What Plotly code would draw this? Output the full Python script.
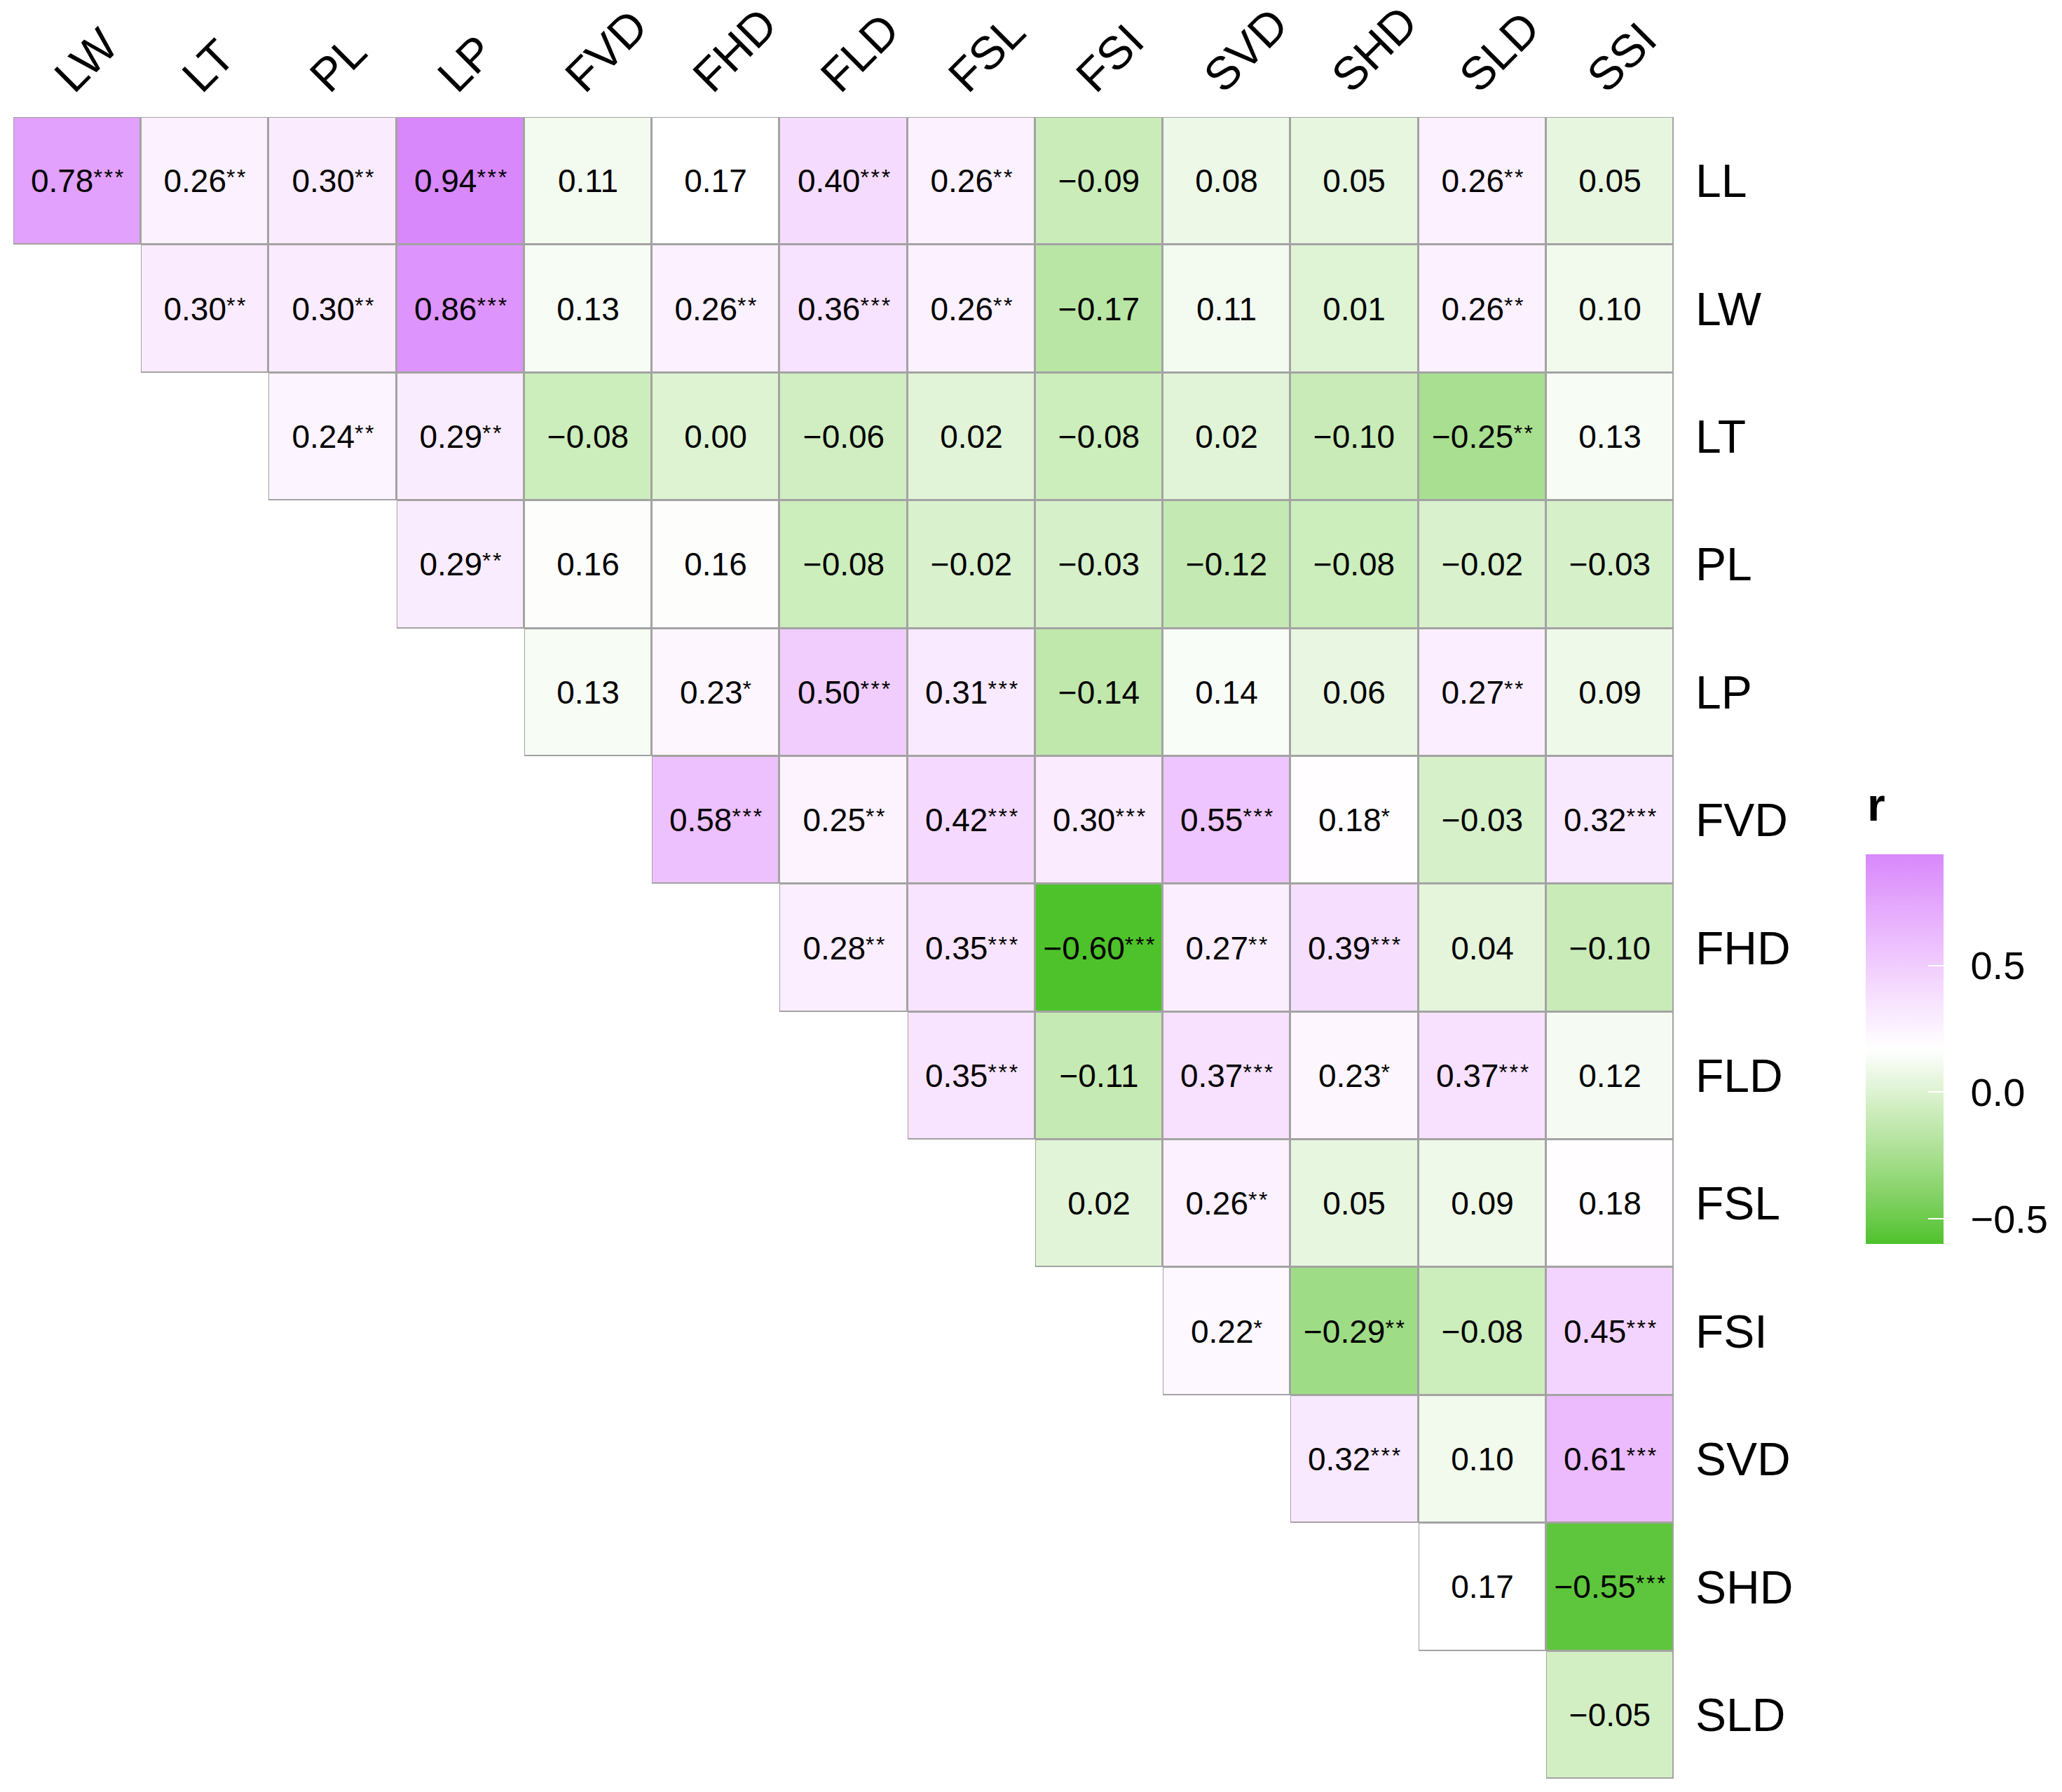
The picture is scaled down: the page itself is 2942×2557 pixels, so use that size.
import numpy as np
import plotly.graph_objects as go

# column / row variables
cols = ['LW', 'LT', 'PL', 'LP', 'FVD', 'FHD', 'FLD', 'FSL', 'FSI', 'SVD', 'SHD', 'SLD', 'SSI']
rows = ['LL', 'LW', 'LT', 'PL', 'LP', 'FVD', 'FHD', 'FLD', 'FSL', 'FSI', 'SVD', 'SHD', 'SLD']

# correlation r per row (row i starts at column i) and significance stars
r_LL = [0.78, 0.26, 0.30, 0.94, 0.11, 0.17, 0.40, 0.26, -0.09, 0.08, 0.05, 0.26, 0.05]
s_LL = ['***', '**', '**', '***', '', '', '***', '**', '', '', '', '**', '']
r_LW = [0.30, 0.30, 0.86, 0.13, 0.26, 0.36, 0.26, -0.17, 0.11, 0.01, 0.26, 0.10]
s_LW = ['**', '**', '***', '', '**', '***', '**', '', '', '', '**', '']
r_LT = [0.24, 0.29, -0.08, 0.00, -0.06, 0.02, -0.08, 0.02, -0.10, -0.25, 0.13]
s_LT = ['**', '**', '', '', '', '', '', '', '', '**', '']
r_PL = [0.29, 0.16, 0.16, -0.08, -0.02, -0.03, -0.12, -0.08, -0.02, -0.03]
s_PL = ['**', '', '', '', '', '', '', '', '', '']
r_LP = [0.13, 0.23, 0.50, 0.31, -0.14, 0.14, 0.06, 0.27, 0.09]
s_LP = ['', '*', '***', '***', '', '', '', '**', '']
r_FVD = [0.58, 0.25, 0.42, 0.30, 0.55, 0.18, -0.03, 0.32]
s_FVD = ['***', '**', '***', '***', '***', '*', '', '***']
r_FHD = [0.28, 0.35, -0.60, 0.27, 0.39, 0.04, -0.10]
s_FHD = ['**', '***', '***', '**', '***', '', '']
r_FLD = [0.35, -0.11, 0.37, 0.23, 0.37, 0.12]
s_FLD = ['***', '', '***', '*', '***', '']
r_FSL = [0.02, 0.26, 0.05, 0.09, 0.18]
s_FSL = ['', '**', '', '', '']
r_FSI = [0.22, -0.29, -0.08, 0.45]
s_FSI = ['*', '**', '', '***']
r_SVD = [0.32, 0.10, 0.61]
s_SVD = ['***', '', '***']
r_SHD = [0.17, -0.55]
s_SHD = ['', '***']
r_SLD = [-0.05]
s_SLD = ['']

r_rows = [r_LL, r_LW, r_LT, r_PL, r_LP, r_FVD, r_FHD, r_FLD, r_FSL, r_FSI, r_SVD, r_SHD, r_SLD]
s_rows = [s_LL, s_LW, s_LT, s_PL, s_LP, s_FVD, s_FHD, s_FLD, s_FSL, s_FSI, s_SVD, s_SHD, s_SLD]

n = len(cols)
z = [[None] * n for _ in range(n)]
base = [[None] * n for _ in range(n)]
txt = [[''] * n for _ in range(n)]
for i, (rv, sv) in enumerate(zip(r_rows, s_rows)):
    for k, (v, s) in enumerate(zip(rv, sv)):
        j = i + k
        z[i][j] = v
        base[i][j] = 1
        lab = f'{v:.2f}'.replace('-', '\u2212')
        if s:
            stars = '\u200a'.join(s)
            lab += f'<span style="font-size:32px;baseline-shift:10px">{stars}</span>'
        txt[i][j] = lab


# gradient green -> white -> purple, interpolated in Lab like ggplot
def _lin(c):
    c = c / 255.0
    return np.where(c <= 0.04045, c / 12.92, ((c + 0.055) / 1.055) ** 2.4)


def _unlin(c):
    c = np.where(c <= 0.0031308, 12.92 * c, 1.055 * np.clip(c, 0, None) ** (1 / 2.4) - 0.055)
    return np.clip(np.round(c * 255), 0, 255)


M = np.array([[0.4124, 0.3576, 0.1805], [0.2126, 0.7152, 0.0722], [0.0193, 0.1192, 0.9505]])
WP = np.array([0.95047, 1.0, 1.08883])


def hex2lab(h):
    rgb = np.array([int(h[i:i + 2], 16) for i in (1, 3, 5)], float)
    xyz = M @ _lin(rgb) / WP
    f = np.where(xyz > 0.008856, np.cbrt(xyz), 7.787 * xyz + 16 / 116)
    return np.array([116 * f[1] - 16, 500 * (f[0] - f[1]), 200 * (f[1] - f[2])])


def lab2hex(lab):
    fy = (lab[0] + 16) / 116
    fx = fy + lab[1] / 500
    fz = fy - lab[2] / 200
    f = np.array([fx, fy, fz])
    xyz = np.where(f ** 3 > 0.008856, f ** 3, (f - 16 / 116) / 7.787) * WP
    rgb = _unlin(np.linalg.solve(M, xyz))
    return '#%02x%02x%02x' % tuple(int(c) for c in rgb)


anchors = [hex2lab('#4ec22b'), hex2lab('#ffffff'), hex2lab('#d888fb')]
cscale = []
for t in np.linspace(0, 1, 41):
    if t <= 0.5:
        a, b, u = anchors[0], anchors[1], t / 0.5
    else:
        a, b, u = anchors[1], anchors[2], (t - 0.5) / 0.5
    cscale.append([float(t), lab2hex(a + (b - a) * u)])

# page has an 8px body margin
W, H = 2934, 2549
L, R, T, B = 11, 554, 159, 19
pw = W - L - R
ph = H - T - B

pad = '\u00a0\u2009'

fig = go.Figure()
fig.add_trace(go.Heatmap(
    z=base, x=cols, y=rows, colorscale=[[0, '#a3a3a3'], [1, '#a3a3a3']],
    showscale=False, hoverinfo='skip'))
fig.add_trace(go.Heatmap(
    z=z, x=cols, y=rows, text=txt, texttemplate='%{text}',
    textfont=dict(family='Liberation Sans', size=46, color='black'),
    colorscale=cscale, zmin=-0.60, zmax=0.94, xgap=3, ygap=3,
    hoverinfo='skip',
    colorbar=dict(
        thickness=111, len=556, lenmode='pixels',
        x=(2654 - L) / pw, xanchor='left', xpad=0,
        y=(H - B - 1767) / ph, yanchor='bottom', ypad=0,
        outlinewidth=0,
        tickvals=[-0.5, 0, 0.5], ticktext=[pad + '\u22120.5', pad + '0.0', pad + '0.5'],
        ticks='inside', ticklen=22, tickwidth=2, tickcolor='white',
        tickfont=dict(size=56, color='black'),
    )))

# legend title
fig.add_annotation(text='<b>r</b>', xref='paper', yref='paper',
                   x=(2654 - L) / pw, y=(H - B - 1179) / ph,
                   xanchor='left', yanchor='bottom', showarrow=False,
                   font=dict(size=66, color='black'))

fig.update_layout(
    width=W, height=H,
    margin=dict(l=L, r=R, t=T, b=B, autoexpand=False),
    paper_bgcolor='white', plot_bgcolor='white',
    font=dict(family='Liberation Sans', color='black'),
    xaxis=dict(side='top', tickangle=-45, showgrid=False, zeroline=False, ticks='',
               tickfont=dict(size=66), automargin=False,
               ticklabelshift=-28, ticklabelstandoff=8),
    yaxis=dict(side='right', autorange='reversed', showgrid=False, zeroline=False, ticks='',
               tickfont=dict(size=66), automargin=False, ticklabelstandoff=30),
)

fig.write_html('out.html')
